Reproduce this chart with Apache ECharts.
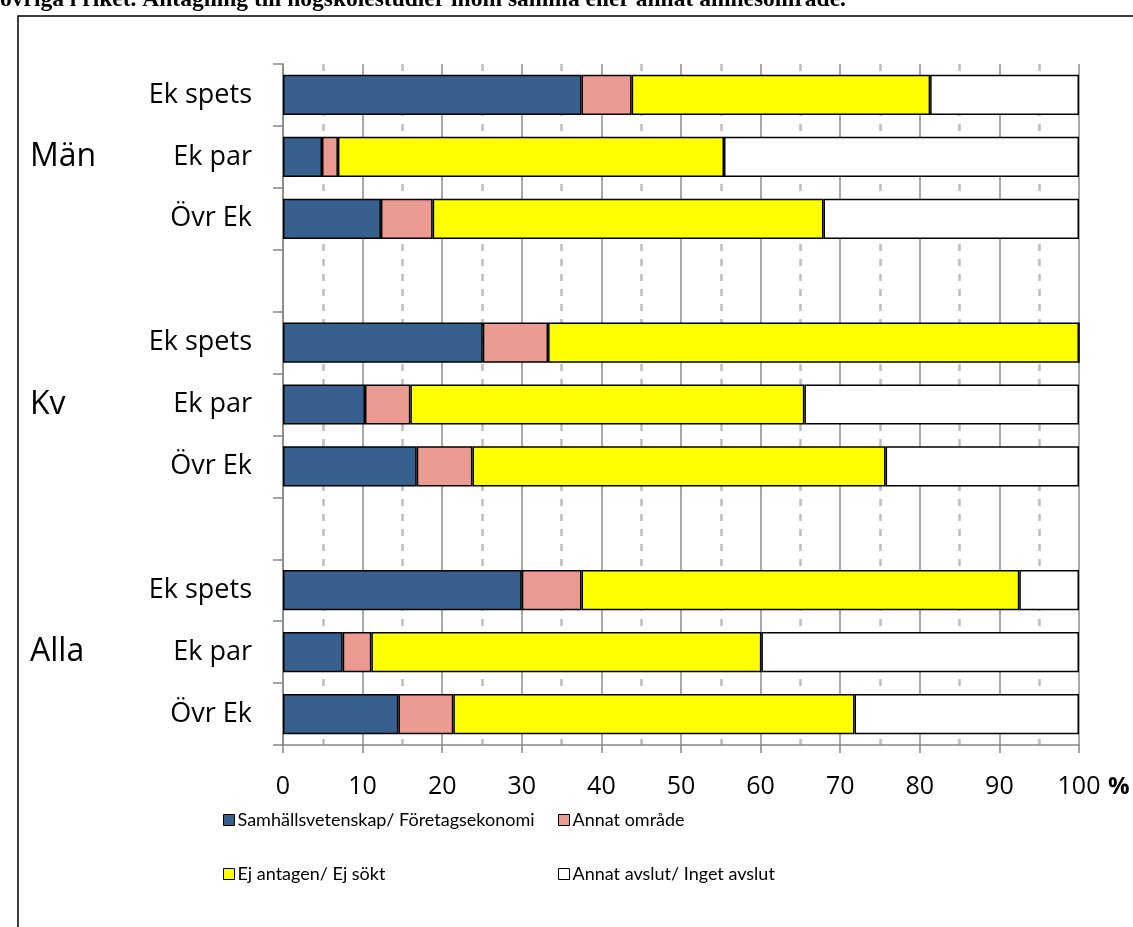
<!DOCTYPE html>
<html>
<head>
<meta charset="utf-8">
<script src="https://cdn.jsdelivr.net/npm/echarts@6/dist/echarts.min.js"></script>
<style>
  html, body { margin: 0; padding: 0; background: #fff; }
  #chart { width: 1133px; height: 927px; }
</style>
</head>
<body>
<div id="chart"></div>
<script>
// categories top to bottom (blank rows separate the groups)
const categories = ['Ek spets', 'Ek par', 'Övr Ek', '', 'Ek spets', 'Ek par', 'Övr Ek', '', 'Ek spets', 'Ek par', 'Övr Ek'];
const groupLabels = ['', 'Män', '', '', '', 'Kv', '', '', '', 'Alla', ''];

const seriesNames = ['Samhällsvetenskap/ Företagsekonomi', 'Annat område', 'Ej antagen/ Ej sökt', 'Annat avslut/ Inget avslut'];
const samhall   = [37.5, 4.9, 12.3, '-', 25.1, 10.3, 16.8, '-', 30.0, 7.5, 14.5];
const annat     = [6.3, 2.0, 6.5, '-', 8.2, 5.7, 7.0, '-', 7.5, 3.6, 6.9];
const ejAntagen = [37.5, 48.5, 49.1, '-', 66.7, 49.5, 51.9, '-', 55.0, 49.0, 50.4];
const avslut    = [18.7, 44.6, 32.1, '-', 0, 34.5, 24.3, '-', 7.5, 39.9, 28.2];

const xTicks = [0, 10, 20, 30, 40, 50, 60, 70, 80, 90, 100];

const titleText = 'övriga i riket. Antagning till högskolestudier inom samma eller annat ämnesområde.';

const colors = ['#37608f', '#ec9b92', '#ffff00', '#ffffff'];
const font = 'Open Sans';

const chart = echarts.init(document.getElementById('chart'));

function bar(name, data, color) {
  return {
    name: name,
    type: 'bar',
    stack: 'total',
    data: data,
    barCategoryGap: '35%',
    itemStyle: { color: color, borderColor: '#000', borderWidth: 1.5 },
    emphasis: { disabled: true }
  };
}

function legendCol(left, names) {
  return {
    orient: 'vertical',
    left: left, top: 806,
    itemGap: 36,
    itemWidth: 11, itemHeight: 11,
    icon: 'rect',
    data: names,
    textStyle: { fontSize: 18, color: '#000', fontFamily: 'Lato', padding: [0, 0, 0, -2] },
    itemStyle: { borderColor: '#000', borderWidth: 1 }
  };
}

const option = {
  animation: false,
  backgroundColor: '#fff',
  textStyle: { fontFamily: font },
  graphic: [
    {
      type: 'rect',
      shape: { x: 18, y: 16, width: 1300, height: 1100 },
      style: { fill: 'none', stroke: '#000', lineWidth: 1.5 },
      silent: true
    },
    {
      type: 'text',
      x: 0, y: 12,
      style: {
        text: titleText,
        font: 'bold 23.5px "Liberation Serif"',
        fill: '#000',
        textVerticalAlign: 'bottom'
      },
      silent: true
    },
    {
      type: 'text',
      x: 1108, y: 787,
      style: {
        text: '%',
        font: 'bold 24px "Open Sans"',
        fill: '#000',
        textVerticalAlign: 'middle'
      },
      silent: true
    }
  ],
  grid: { left: 283, right: 54, top: 64, bottom: 182, containLabel: false },
  legend: [
    legendCol(218, [seriesNames[0], seriesNames[2]]),
    legendCol(553, [seriesNames[1], seriesNames[3]])
  ],
  xAxis: {
    type: 'value',
    min: 0, max: 100, interval: 10,
    axisLine: { show: true, lineStyle: { color: '#868686', width: 1.5 } },
    axisTick: { show: true, length: 8, lineStyle: { color: '#868686', width: 1.5 } },
    axisLabel: {
      margin: 29, fontSize: 25, color: '#000', fontFamily: font,
      formatter: function (v) { return xTicks.indexOf(v) >= 0 ? String(v) : ''; }
    },
    splitLine: { show: true, lineStyle: { color: '#8c8c8c', width: 1.5 } },
    minorTick: { show: false, splitNumber: 2 },
    minorSplitLine: { show: true, lineStyle: { color: '#bdbdbd', width: 2.5, type: [7, 8] } }
  },
  yAxis: [
    {
      type: 'category',
      inverse: true,
      data: categories,
      axisLine: { show: true, lineStyle: { color: '#868686', width: 1.5 } },
      axisTick: { show: true, length: 10, interval: 0, lineStyle: { color: '#868686', width: 1.5 } },
      axisLabel: { interval: 0, margin: 31, fontSize: 27, color: '#000', fontFamily: font },
      splitLine: { show: false }
    },
    {
      type: 'category',
      inverse: true,
      position: 'left',
      offset: 253,
      data: groupLabels,
      axisLine: { show: false },
      axisTick: { show: false },
      axisLabel: { interval: 0, margin: 0, align: 'left', fontSize: 32, color: '#000', fontFamily: font },
      splitLine: { show: false }
    }
  ],
  series: [
    bar(seriesNames[0], samhall, colors[0]),
    bar(seriesNames[1], annat, colors[1]),
    bar(seriesNames[2], ejAntagen, colors[2]),
    bar(seriesNames[3], avslut, colors[3])
  ]
};

chart.setOption(option);
</script>
</body>
</html>
